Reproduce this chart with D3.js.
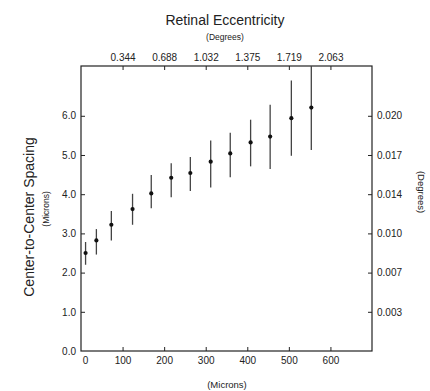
<!DOCTYPE html>
<html>
<head>
<meta charset="utf-8">
<script src="https://cdn.jsdelivr.net/npm/d3@7"></script>
<style>
  body { margin: 0; background: #fff; }
  svg text { font-family: "Liberation Sans", Arial, sans-serif; fill: #222; }
</style>
</head>
<body>
<div id="chart"></div>
<script>
// eccentricity in microns, mean spacing and error-bar ends (microns)
const eccentricity = [11, 37, 73, 124, 169, 217, 263, 312, 359, 408, 455, 506, 554];
const spacing =      [2.50, 2.82, 3.22, 3.62, 4.02, 4.42, 4.54, 4.83, 5.04, 5.32, 5.47, 5.94, 6.21];
const errLow =       [2.20, 2.46, 2.82, 3.22, 3.64, 3.92, 4.08, 4.17, 4.43, 4.71, 4.64, 4.98, 5.13];
const errHigh =      [2.78, 3.11, 3.57, 4.01, 4.49, 4.79, 4.95, 5.37, 5.57, 5.90, 6.28, 6.90, 7.40];

const bottomTicks = [0, 100, 200, 300, 400, 500, 600];
const topTicks = [100, 200, 300, 400, 500, 600];
const topLabels = ["0.344", "0.688", "1.032", "1.375", "1.719", "2.063"];
const leftTicks = [0, 1, 2, 3, 4, 5, 6];
const rightTicks = [1, 2, 3, 4, 5, 6];
const rightLabels = ["0.003", "0.007", "0.010", "0.014", "0.017", "0.020"];

const data = eccentricity.map((e, i) => ({ x: e, y: spacing[i], lo: errLow[i], hi: errHigh[i] }));

const W = 430, H = 391;
const svg = d3.select("#chart").append("svg")
    .attr("width", W)
    .attr("height", H);

const x = d3.scaleLinear().domain([0, 700]).range([81, 372]);
const y = d3.scaleLinear().domain([0, 7.27]).range([351, 66]);

svg.append("defs").append("clipPath").attr("id", "plot-clip")
    .append("rect")
    .attr("x", x(0)).attr("y", y(7.27))
    .attr("width", x(700) - x(0)).attr("height", y(0) - y(7.27));

// axes, ticks pointing inward
const fs = "10px";

const axisB = svg.append("g")
    .attr("transform", `translate(0,${y(0)})`)
    .call(d3.axisBottom(x).tickValues(bottomTicks).tickFormat(d3.format("d")).tickSize(-4).tickPadding(6));
axisB.selectAll(".tick").filter(d => d === 0).select("line").remove();
axisB.selectAll(".tick").filter(d => d === 0).select("text").attr("dx", 4);

svg.append("g")
    .attr("transform", `translate(0,${y(7.27)})`)
    .call(d3.axisTop(x).tickValues(topTicks).tickFormat((d, i) => topLabels[i]).tickSize(-4).tickPadding(5));

const axisL = svg.append("g")
    .attr("transform", `translate(${x(0)},0)`)
    .call(d3.axisLeft(y).tickValues(leftTicks).tickFormat(d3.format(".1f")).tickSize(-4).tickPadding(5));
axisL.selectAll(".tick").filter(d => d === 0).select("line").remove();

svg.append("g")
    .attr("transform", `translate(${x(700)},0)`)
    .call(d3.axisRight(y).tickValues(rightTicks).tickFormat((d, i) => rightLabels[i]).tickSize(-4).tickPadding(5));

svg.selectAll(".domain").remove();
svg.selectAll(".tick line").style("stroke", "#222").style("stroke-width", 1);
svg.selectAll(".tick text").style("font-size", fs).style("fill", "#222");

// frame
svg.append("rect")
    .attr("x", x(0)).attr("y", y(7.27))
    .attr("width", x(700) - x(0)).attr("height", y(0) - y(7.27))
    .attr("fill", "none")
    .attr("stroke", "#222")
    .attr("stroke-width", 1.2);

// error bars and points
const plot = svg.append("g").attr("clip-path", "url(#plot-clip)");

plot.selectAll(".err")
    .data(data)
    .join("line")
    .attr("class", "err")
    .attr("x1", d => x(d.x)).attr("x2", d => x(d.x))
    .attr("y1", d => y(d.lo)).attr("y2", d => y(d.hi))
    .attr("stroke", "#444")
    .attr("stroke-width", 1.3);

plot.selectAll(".pt")
    .data(data)
    .join("circle")
    .attr("class", "pt")
    .attr("cx", d => x(d.x))
    .attr("cy", d => y(d.y))
    .attr("r", 2.1)
    .attr("fill", "#111");

// titles
svg.append("text")
    .attr("x", 225).attr("y", 25)
    .attr("text-anchor", "middle")
    .style("font-size", "14px")
    .text("Retinal Eccentricity");
svg.append("text")
    .attr("x", 225).attr("y", 40)
    .attr("text-anchor", "middle")
    .style("font-size", "8.5px")
    .text("(Degrees)");
svg.append("text")
    .attr("x", 227).attr("y", 388)
    .attr("text-anchor", "middle")
    .style("font-size", "9.5px")
    .text("(Microns)");

svg.append("text")
    .attr("transform", "translate(34,217) rotate(-90)")
    .attr("text-anchor", "middle")
    .style("font-size", "14px")
    .text("Center-to-Center Spacing");
svg.append("text")
    .attr("transform", "translate(49,209) rotate(-90)")
    .attr("text-anchor", "middle")
    .style("font-size", "8.5px")
    .text("(Microns)");
svg.append("text")
    .attr("transform", "translate(418,192) rotate(90)")
    .attr("text-anchor", "middle")
    .style("font-size", "9.5px")
    .text("(Degrees)");
</script>
</body>
</html>
